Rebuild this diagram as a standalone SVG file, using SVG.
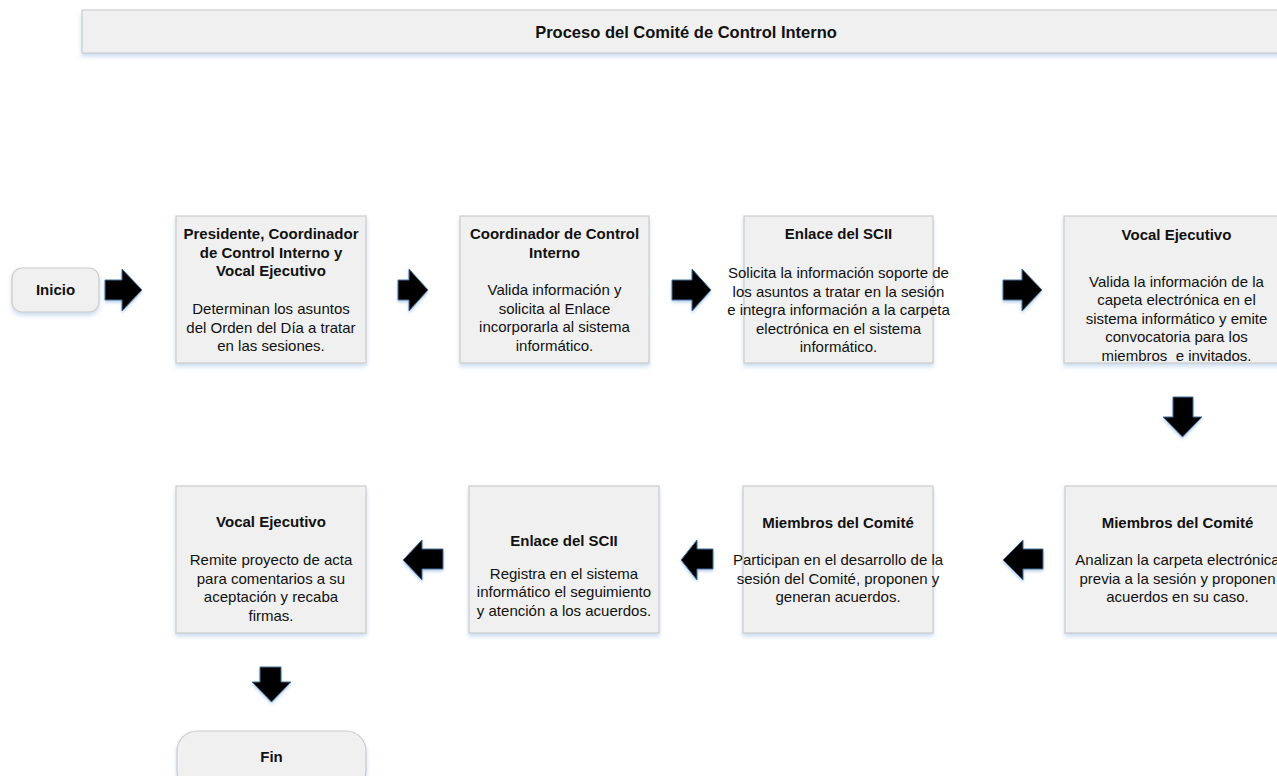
<svg xmlns="http://www.w3.org/2000/svg" width="1277" height="776" viewBox="0 0 1277 776">
<defs>
<filter id="sh" x="-10%" y="-10%" width="120%" height="130%">
<feDropShadow dx="0" dy="3" stdDeviation="2" flood-color="#8fb4e0" flood-opacity="0.45"/>
</filter>
<filter id="ash" x="-30%" y="-30%" width="160%" height="160%">
<feDropShadow dx="0" dy="2" stdDeviation="1.5" flood-color="#8fb4e0" flood-opacity="0.6"/>
</filter>
</defs>
<style>
.box{fill:#f0f0f0;stroke:#cccccc;stroke-width:1.2;filter:url(#sh)}
.t{font-family:"Liberation Sans",Arial,sans-serif;font-size:15px;fill:#111;text-anchor:middle}
.b{font-weight:bold}
.arr{fill:#000;stroke:#41719c;stroke-width:1;filter:url(#ash)}
</style>
<rect width="1277" height="776" fill="#ffffff"/>

<g id="header">
<rect class="box" x="82" y="10" width="1205" height="43"/>
<text class="t b" x="686" y="37.5" style="font-size:16.5px">Proceso del Comité de Control Interno</text>
</g>

<g id="inicio">
<rect class="box" x="12" y="268" width="87" height="44" rx="10"/>
<text class="t b" x="55.5" y="295">Inicio</text>
</g>

<g id="n1">
<rect class="box" x="176" y="216" width="190" height="147"/>
<text class="t b" x="271" y="239">Presidente, Coordinador</text>
<text class="t b" x="271" y="257.5">de Control Interno y</text>
<text class="t b" x="271" y="276">Vocal Ejecutivo</text>
<text class="t" x="271" y="314">Determinan los asuntos</text>
<text class="t" x="271" y="332.5">del Orden del Día a tratar</text>
<text class="t" x="271" y="351">en las sesiones.</text>
</g>

<g id="n2">
<rect class="box" x="460" y="216" width="189" height="147"/>
<text class="t b" x="554.5" y="239">Coordinador de Control</text>
<text class="t b" x="554.5" y="257.5">Interno</text>
<text class="t" x="554.5" y="295">Valida información y</text>
<text class="t" x="554.5" y="313.5">solicita al Enlace</text>
<text class="t" x="554.5" y="332">incorporarla al sistema</text>
<text class="t" x="554.5" y="350.5">informático.</text>
</g>

<g id="n3">
<rect class="box" x="744" y="216" width="189" height="147"/>
<text class="t b" x="838.5" y="238.5">Enlace del SCII</text>
<text class="t" x="838.5" y="278">Solicita la información soporte de</text>
<text class="t" x="838.5" y="296.5">los asuntos a tratar en la sesión</text>
<text class="t" x="838.5" y="315">e integra información a la carpeta</text>
<text class="t" x="838.5" y="333.5">electrónica en el sistema</text>
<text class="t" x="838.5" y="352">informático.</text>
</g>

<g id="n4">
<rect class="box" x="1064" y="216" width="225" height="147"/>
<text class="t b" x="1176.5" y="240">Vocal Ejecutivo</text>
<text class="t" x="1176.5" y="287">Valida la información de la</text>
<text class="t" x="1176.5" y="305">capeta electrónica en el</text>
<text class="t" x="1176.5" y="323.5">sistema informático y emite</text>
<text class="t" x="1176.5" y="342">convocatoria para los</text>
<text class="t" x="1176.5" y="360.5" xml:space="preserve">miembros  e invitados.</text>
</g>

<g id="n5">
<rect class="box" x="1065" y="486" width="225" height="147"/>
<text class="t b" x="1177.5" y="528">Miembros del Comité</text>
<text class="t" x="1177.5" y="565">Analizan la carpeta electrónica</text>
<text class="t" x="1177.5" y="583.5">previa a la sesión y proponen</text>
<text class="t" x="1177.5" y="602">acuerdos en su caso.</text>
</g>

<g id="n6">
<rect class="box" x="743" y="486" width="190" height="147"/>
<text class="t b" x="838" y="528">Miembros del Comité</text>
<text class="t" x="838" y="565">Participan en el desarrollo de la</text>
<text class="t" x="838" y="583.5">sesión del Comité, proponen y</text>
<text class="t" x="838" y="602">generan acuerdos.</text>
</g>

<g id="n7">
<rect class="box" x="469" y="486" width="190" height="147"/>
<text class="t b" x="564" y="546">Enlace del SCII</text>
<text class="t" x="564" y="578.5">Registra en el sistema</text>
<text class="t" x="564" y="597">informático el seguimiento</text>
<text class="t" x="564" y="615.5">y atención a los acuerdos.</text>
</g>

<g id="n8">
<rect class="box" x="176" y="486" width="190" height="147"/>
<text class="t b" x="271" y="527">Vocal Ejecutivo</text>
<text class="t" x="271" y="565">Remite proyecto de acta</text>
<text class="t" x="271" y="583.5">para comentarios a su</text>
<text class="t" x="271" y="602">aceptación y recaba</text>
<text class="t" x="271" y="620.5">firmas.</text>
</g>

<g id="fin">
<rect class="box" x="177" y="731" width="189" height="60" rx="20"/>
<text class="t b" x="271.5" y="762">Fin</text>
</g>

<g id="connectors">
<polygon class="arr" points="105,280 122,280 122,269 142,290 122,311 122,300 105,300"/>
<polygon class="arr" points="398,280 409,280 409,269 428,290 409,311 409,300 398,300"/>
<polygon class="arr" points="672,280 692,280 692,269 711,290 692,311 692,300 672,300"/>
<polygon class="arr" points="1003,280 1022,280 1022,269 1042,290 1022,311 1022,300 1003,300"/>
<polygon class="arr" points="1173,397 1193,397 1193,417 1202,417 1182.5,437 1163,417 1173,417"/>
<polygon class="arr" points="1043,549 1023,549 1023,540 1003,560 1023,580 1023,569 1043,569"/>
<polygon class="arr" points="713,549 697,549 697,540 681,560 697,580 697,569 713,569"/>
<polygon class="arr" points="443,549 422,549 422,540 403,560 422,580 422,569 443,569"/>
<polygon class="arr" points="260,667 281,667 281,682 291,682 271.5,702 252,682 260,682"/>
</g>
</svg>
